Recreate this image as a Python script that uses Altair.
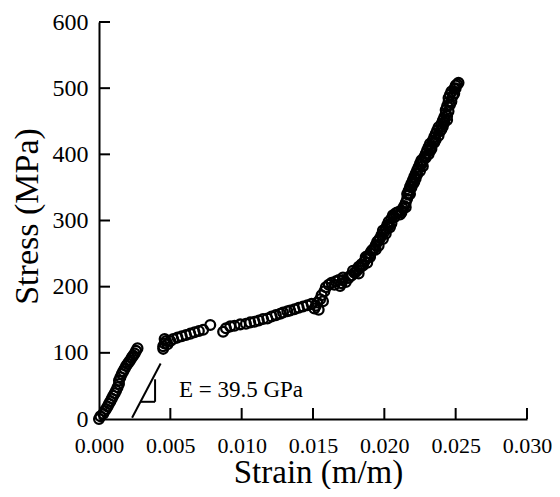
import altair as alt
import pandas as pd

# measured stress-strain points
strain = [
    0.0000, 0.0001, 0.0003, 0.0004, 0.0005, 0.0006, 0.0007, 0.0008, 0.0009, 0.0010,
    0.0011, 0.0012, 0.0013, 0.0014, 0.0014, 0.0015, 0.0016, 0.0017, 0.0018, 0.0019,
    0.0020, 0.0021, 0.0022, 0.0023, 0.0024, 0.0025, 0.0026, 0.0027,
    0.0045, 0.0045, 0.0046, 0.0047, 0.0046, 0.0048, 0.0050, 0.0052, 0.0055, 0.0058,
    0.0061, 0.0064, 0.0067, 0.0070, 0.0073, 0.0078, 0.0087, 0.0089, 0.0092, 0.0095,
    0.0099, 0.0103, 0.0106, 0.0109, 0.0112, 0.0115, 0.0118, 0.0121, 0.0124, 0.0127,
    0.0129, 0.0132, 0.0134, 0.0137, 0.0140, 0.0143, 0.0146, 0.0149, 0.0151, 0.0152,
    0.0153, 0.0154, 0.0155, 0.0156, 0.0157, 0.0158, 0.0159, 0.0161, 0.0163, 0.0165,
    0.0166, 0.0169, 0.0170, 0.0171, 0.0173, 0.0175, 0.0177, 0.0179, 0.0181, 0.0182,
    0.0183, 0.0184, 0.0186, 0.0187, 0.0188, 0.0189, 0.0190, 0.0191, 0.0193, 0.0194,
    0.0195, 0.0196, 0.0197, 0.0198, 0.0199, 0.0200, 0.0201, 0.0202, 0.0203, 0.0204,
    0.0205, 0.0206, 0.0208, 0.0210, 0.0211, 0.0212, 0.0213, 0.0214, 0.0215, 0.0216,
    0.0217, 0.0217, 0.0218, 0.0219, 0.0220, 0.0220, 0.0221, 0.0222, 0.0223, 0.0224,
    0.0225, 0.0226, 0.0226, 0.0228, 0.0229, 0.0230, 0.0231, 0.0232, 0.0233, 0.0234,
    0.0235, 0.0236, 0.0237, 0.0238, 0.0239, 0.0240, 0.0241, 0.0242, 0.0243, 0.0243,
    0.0244, 0.0244, 0.0245, 0.0245, 0.0246, 0.0247, 0.0247, 0.0249, 0.0250, 0.0250,
    0.0252,
    0.0185, 0.0187, 0.0190, 0.0192, 0.0194, 0.0196, 0.0199, 0.0201, 0.0203, 0.0205,
    0.0207, 0.0209, 0.0212, 0.0215, 0.0216, 0.0218, 0.0219, 0.0221, 0.0222, 0.0223,
    0.0225, 0.0227, 0.0227, 0.0229, 0.0231, 0.0232, 0.0233, 0.0235, 0.0236, 0.0238,
    0.0240, 0.0241, 0.0242, 0.0244, 0.0245, 0.0246, 0.0248, 0.0249, 0.0251, 0.0171,
    0.0168, 0.0176, 0.0178, 0.0180, 0.0182,
]
stress = [
    0, 4, 8, 12, 15, 19, 23, 27, 31, 35,
    39, 43, 48, 53, 58, 63, 68, 72, 76, 80,
    83, 86, 89, 93, 96, 99, 103, 107,
    106, 110, 114, 118, 121, 113, 118, 121, 123, 125,
    127, 129, 131, 133, 135, 142, 132, 137, 140, 141,
    143, 144, 146, 147, 149, 151, 152, 155, 157, 159,
    161, 163, 164, 166, 168, 170, 172, 174, 167, 171,
    176, 165, 181, 187, 178, 193, 199, 203, 206, 203,
    208, 201, 205, 210, 207, 213, 217, 221, 225, 220,
    229, 234, 238, 242, 236, 246, 250, 254, 258, 263,
    268, 262, 273, 278, 272, 283, 288, 293, 298, 290,
    303, 308, 311, 313, 309, 315, 318, 322, 327, 333,
    339, 345, 351, 356, 361, 355, 366, 371, 376, 381,
    386, 391, 385, 396, 401, 406, 411, 416, 408, 421,
    426, 431, 436, 441, 435, 446, 451, 456, 461, 467,
    473, 458, 479, 485, 490, 495, 480, 499, 504, 500,
    508,
    232, 245, 245, 256, 256, 270, 285, 280, 292, 296,
    305, 312, 312, 320, 340, 340, 350, 358, 364, 370,
    375, 382, 390, 395, 400, 405, 412, 418, 422, 428,
    438, 442, 448, 452, 465, 475, 488, 492, 506, 214,
    210, 216, 224, 222, 230,
]

x_ticks = [0.000, 0.005, 0.010, 0.015, 0.020, 0.025, 0.030]
y_ticks = [0, 100, 200, 300, 400, 500, 600]
inner_x_ticks = [0.005, 0.010, 0.015, 0.020, 0.025, 0.030]
inner_y_ticks = [100, 200, 300, 400, 500, 600]

# modulus slope annotation (data units)
slope_x = [0.00232, 0.00291, 0.00393]
slope_y = [2, 26, 26]
slope_x2 = [0.00432, 0.00393, 0.00393]
slope_y2 = [84, 26, 60]
label_text = ["E = 39.5 GPa"]
label_x = [0.0056]
label_y = [44]

FONT = "Liberation Serif"

df = pd.DataFrame({"strain": strain, "stress": stress})
seg = pd.DataFrame({"x": slope_x, "y": slope_y, "x2": slope_x2, "y2": slope_y2})
lab = pd.DataFrame({"x": label_x, "y": label_y, "t": label_text})
xt = pd.DataFrame({"v": inner_x_ticks})
yt = pd.DataFrame({"v": inner_y_ticks})

xscale = alt.Scale(domain=[0, 0.030], nice=False, zero=False)
yscale = alt.Scale(domain=[0, 600], nice=False)

xaxis = alt.Axis(
    values=x_ticks, format=".3f", title="Strain (m/m)", grid=False,
    ticks=False, tickSize=0, labelPadding=33, labelBaseline="alphabetic",
    labelFont=FONT, labelFontSize=22, labelColor="black", labelFlush=False,
    domainColor="black", domainWidth=2,
    titleFont=FONT, titleFontSize=33, titleFontWeight="normal", titleColor="black",
    titleX=219, titleY=63, titleBaseline="alphabetic", titleAlign="center",
)
yaxis = alt.Axis(
    values=y_ticks, format="d", title="Stress (MPa)", grid=False,
    ticks=False, tickSize=0, labelPadding=11, labelBaseline="middle",
    labelFont=FONT, labelFontSize=24, labelColor="black", labelFlush=False,
    domainColor="black", domainWidth=2,
    titleFont=FONT, titleFontSize=34, titleFontWeight="normal", titleColor="black",
    titleAngle=-90, titleX=-62, titleY=194, titleBaseline="alphabetic", titleAlign="center",
)

points = alt.Chart(df).mark_point(
    shape="circle", filled=False, size=95, strokeWidth=2.3, color="black", opacity=1
).encode(
    x=alt.X("strain:Q", scale=xscale, axis=xaxis),
    y=alt.Y("stress:Q", scale=yscale, axis=yaxis),
)

xtick_marks = alt.Chart(xt).mark_rule(color="black", strokeWidth=2).encode(
    x=alt.X("v:Q", scale=xscale),
    y=alt.value(397), y2=alt.value(386),
)
ytick_marks = alt.Chart(yt).mark_rule(color="black", strokeWidth=2).encode(
    y=alt.Y("v:Q", scale=yscale),
    x=alt.value(0), x2=alt.value(11),
)

segments = alt.Chart(seg).mark_rule(color="black", strokeWidth=2).encode(
    x=alt.X("x:Q", scale=xscale), y=alt.Y("y:Q", scale=yscale),
    x2="x2:Q", y2="y2:Q",
)
label = alt.Chart(lab).mark_text(
    font=FONT, fontSize=23, color="black", align="left", baseline="middle"
).encode(
    x=alt.X("x:Q", scale=xscale), y=alt.Y("y:Q", scale=yscale), text="t:N"
)

chart = alt.layer(xtick_marks, ytick_marks, segments, label, points).properties(
    width=428, height=397,
    autosize=alt.AutoSizeParams(type="none"),
    padding={"left": 91, "top": 14, "right": 25, "bottom": 70},
).configure_view(stroke=None)

chart.save("out.html", embed_options={"renderer": "svg", "actions": False})
